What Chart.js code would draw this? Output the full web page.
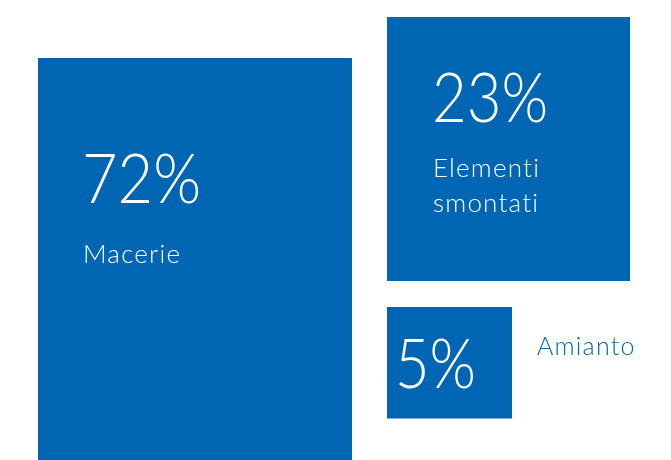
<!DOCTYPE html>
<html>
<head>
<meta charset="utf-8">
<script src="https://cdn.jsdelivr.net/npm/chart.js@4/dist/chart.umd.min.js"></script>
<style>
  html, body { margin: 0; padding: 0; background: #fff; }
  .chart-box { width: 671px; height: 460px; position: relative; }
</style>
</head>
<body>
<div class="chart-box"><canvas id="wasteChart"></canvas></div>
<script>
// Data
const categories = ['Macerie', 'Elementi smontati', 'Amianto']
const shares = [72, 23, 5]
const shareLabels = ['72%', '23%', '5%']

// Layout (units of the axes below), area of each box = share * AREA_PER_POINT
const AREA_PER_POINT = 2790
const boxes = [
  { left: 38, top: 58, width: 314, pct: [44, 145], pctMax: 119, name: [45, 205], nameInside: true },
  { left: 387, top: 17, width: 243, pct: [45, 105], pctMax: 116, name: [46, 160], nameInside: true },
  { left: 387, top: 307, width: 125, pct: [8, 81], pctMax: 81, name: [150, 48], nameInside: false }
]
const BLUE = '#0066b3'

// one closed polygon per box, built from the share
const datasets = shares.map((v, i) => {
  const b = boxes[i]
  const h = v * AREA_PER_POINT / b.width
  const r = b.left + b.width
  return {
    label: categories[i],
    data: [
      { x: b.left, y: b.top },
      { x: r, y: b.top },
      { x: r, y: b.top + h },
      { x: b.left, y: b.top + h },
      { x: b.left, y: b.top }
    ],
    showLine: true,
    fill: 'shape',
    backgroundColor: BLUE,
    borderColor: BLUE,
    borderWidth: 0,
    pointRadius: 0,
    tension: 0
  }
})

// text on/next to the boxes
const labelPlugin = {
  id: 'boxLabels',
  afterDatasetsDraw(chart) {
    const { ctx, scales: { x, y } } = chart
    ctx.save()
    ctx.textBaseline = 'alphabetic'
    ctx.textAlign = 'left'
    boxes.forEach((b, i) => {
      ctx.fillStyle = '#fff'
      ctx.letterSpacing = '0px'
      ctx.font = '300 68px Lato, sans-serif'
      ctx.fillText(shareLabels[i], x.getPixelForValue(b.left + b.pct[0]), y.getPixelForValue(b.top + b.pct[1]), b.pctMax)
      ctx.fillStyle = b.nameInside ? '#fff' : BLUE
      ctx.font = b.nameInside ? '300 26px Lato, sans-serif' : '300 25px Lato, sans-serif'
      ctx.letterSpacing = '1.2px'
      const words = categories[i].split(' ')
      words.forEach((w, k) => {
        ctx.fillText(w, x.getPixelForValue(b.left + b.name[0]), y.getPixelForValue(b.top + b.name[1] + k * 35))
      })
    })
    ctx.restore()
  }
}

const config = {
  type: 'scatter',
  data: { datasets },
  options: {
    responsive: true,
    maintainAspectRatio: false,
    animation: false,
    events: [],
    layout: { padding: 0 },
    scales: {
      x: { type: 'linear', min: 0, max: 671, display: false },
      y: { type: 'linear', min: 0, max: 460, reverse: true, display: false }
    },
    plugins: {
      legend: { display: false },
      tooltip: { enabled: false }
    }
  },
  plugins: [labelPlugin]
}

const chart = new Chart(document.querySelector('#wasteChart'), config)
</script>
</body>
</html>
